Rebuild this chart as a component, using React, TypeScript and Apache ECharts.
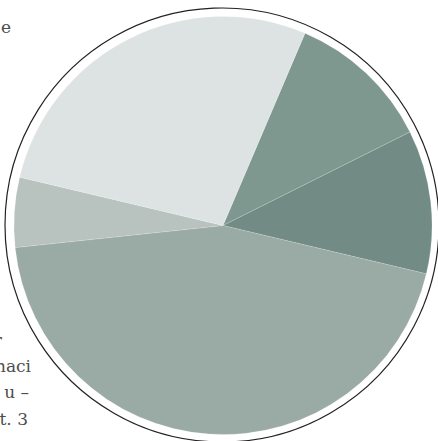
import React, { useEffect, useRef } from "react";
import * as echarts from "echarts";

const categories = ["A", "B", "C", "D", "E"];
const values = [11.2, 11.1, 44.6, 5.4, 27.7];
const colors = ["#7e978f", "#728c85", "#9aaaa5", "#b8c2bf", "#dde3e2"];
const textLines = ["e", "r", "naci", "u –", "t. 3"];

export default function App() {
  const ref = useRef<HTMLDivElement>(null);
  useEffect(() => {
    if (!ref.current) return;
    const chart = echarts.init(ref.current, null, { renderer: "svg" });
    const textPos = [
      { x: 11, y: 35 },
      { x: 2, y: 348 },
      { x: 31, y: 374 },
      { x: 29, y: 400 },
      { x: 28, y: 427 },
    ];
    chart.setOption({
      animation: false,
      backgroundColor: "#ffffff",
      graphic: [
        ...textLines.map((t, i) => ({
          type: "text",
          x: textPos[i].x,
          y: textPos[i].y,
          style: {
            text: t,
            fill: "#4d4d4d",
            font: "17px 'DejaVu Serif'",
            textAlign: "right",
            textVerticalAlign: "bottom",
          },
          z: 0,
        })),
        {
          type: "circle",
          shape: { cx: 222, cy: 225, r: 217 },
          style: { fill: "#ffffff", stroke: "#222222", lineWidth: 1.2 },
          z: 1,
        },
      ],
      series: [
        {
          type: "pie",
          center: [223, 225.5],
          radius: [0, 209],
          startAngle: 66.9,
          clockwise: true,
          label: { show: false },
          labelLine: { show: false },
          silent: true,
          z: 5,
          itemStyle: { borderColor: "rgba(255,255,255,0.25)", borderWidth: 0.6 },
          data: categories.map((c, i) => ({
            name: c,
            value: values[i],
            itemStyle: { color: colors[i] },
          })),
        },
      ],
    });
    return () => chart.dispose();
  }, []);
  return (
    <div
      ref={ref}
      style={{ position: "fixed", left: 0, top: 0, width: 438, height: 441 }}
    />
  );
}
